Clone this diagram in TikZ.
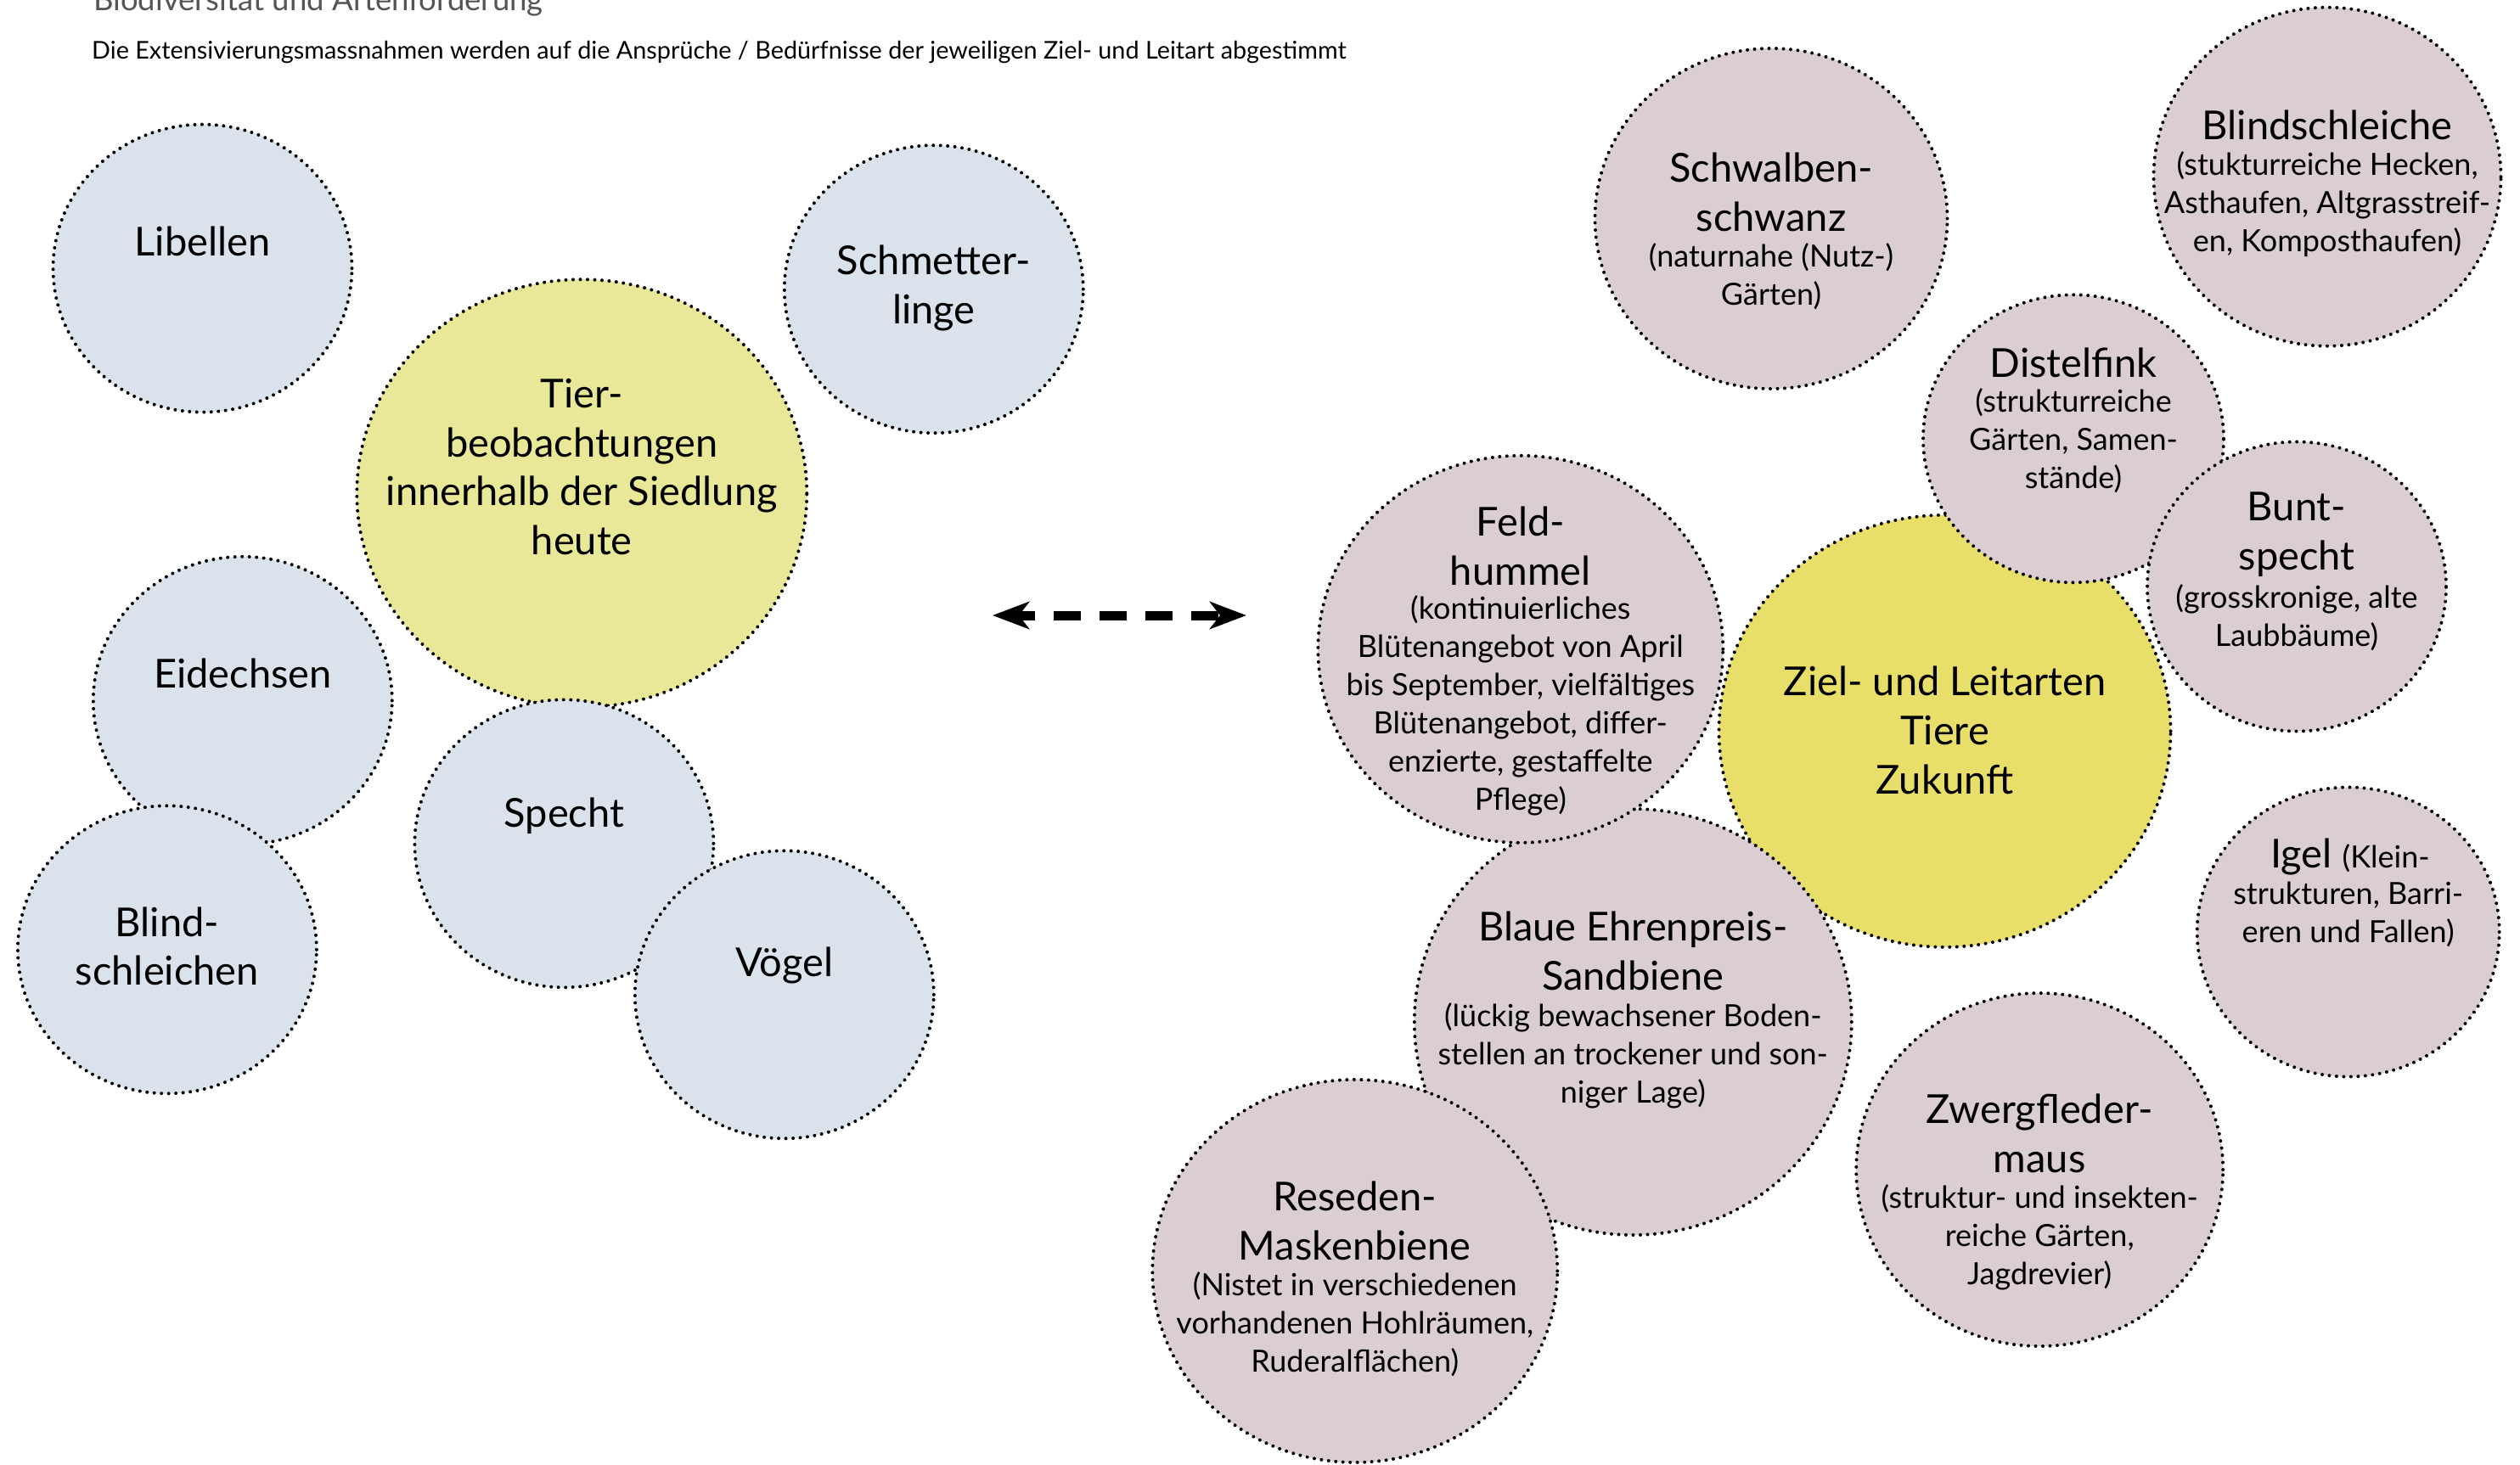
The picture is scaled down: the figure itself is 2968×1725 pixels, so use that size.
\documentclass[tikz,border=0pt]{standalone}
\usepackage{fontspec}
\setmainfont{Lato}
\usetikzlibrary{shapes.geometric,arrows.meta}
\definecolor{bluefill}{HTML}{DAE2EB}
\definecolor{paleyellow}{HTML}{E8E898}
\definecolor{goldyellow}{HTML}{E8DE6A}
\definecolor{mauvefill}{HTML}{DACED3}
\definecolor{titlegray}{HTML}{555555}
\newcommand{\BigTxt}{\fontsize{47}{57.7}\selectfont}
\newcommand{\SmallTxt}{\fontsize{36}{45}\selectfont}
\begin{document}
\begin{tikzpicture}[x=1pt,y=-1pt,
  bubble/.style={ellipse, draw=black, line width=4pt, dash pattern=on 0pt off 8.5pt, line cap=round, inner sep=0pt},
  bluebub/.style={bubble, fill=bluefill, minimum width=352pt, minimum height=339pt},
  mauvebub/.style={bubble, fill=mauvefill},
  bigtxt/.style={align=center, font=\BigTxt, inner sep=0pt},
  smalltxt/.style={align=center, font=\SmallTxt, inner sep=0pt},
  dblarrow/.style={line width=11pt, dash pattern=on 32pt off 22pt, dash phase=10pt,
    {Stealth[length=43pt,width=32pt,inset=12pt]}-{Stealth[length=43pt,width=32pt,inset=12pt]}}]
\useasboundingbox (0,0) rectangle (2968,1725);

% header
\node[anchor=base west, inner sep=0pt, text=titlegray, font=\fontsize{36.5}{40}\selectfont] (title) at (110,12) {Biodiversität und Artenförderung};
\node[anchor=base west, inner sep=0pt, font=\fontsize{28.8}{32}\selectfont] (subtitle) at (108,69) {Die Extensivierungsmassnahmen werden auf die Ansprüche / Bedürfnisse der jeweiligen Ziel- und Leitart abgestimmt};

% left group
\node[bubble, fill=paleyellow, minimum width=530pt, minimum height=504pt] (heute) at (685.3,581.2) {};
\node[bluebub] (specht) at (664.4,993.8) {};
\node[bluebub] (voegel) at (923.8,1171.8) {};
\node[bluebub] (eidechsen) at (285.8,825.3) {};
\node[bluebub] (blindschleichen) at (196.9,1118.8) {};
\node[bluebub] (libellen) at (238.5,316.1) {};
\node[bluebub] (schmetterlinge) at (1099.8,340.7) {};

\node[bigtxt] (tHeute) at (685.3,549.9) {Tier-\\beobachtungen\\innerhalb der Siedlung\\heute};
\node[bigtxt] (tSpecht) at (664.4,961.6) {Specht};
\node[bigtxt] (tVoegel) at (923.8,1137.7) {Vögel};
\node[bigtxt] (tEidechsen) at (285.8,793.2) {Eidechsen};
\node[bigtxt] (tBlindschleichen) at (196.9,1115) {Blind-\\schleichen};
\node[bigtxt] (tLibellen) at (238.5,284) {Libellen};
\node[bigtxt] (tSchmetterlinge) at (1099.8,339.8) {Schmetter-\\linge};

% arrow
\coordinate (arrL) at (1169,725);
\coordinate (arrR) at (1468,725);
\draw[dblarrow] (arrL) -- (arrR);

% right group
\node[bubble, fill=goldyellow, minimum width=532pt, minimum height=509pt] (zukunft) at (2290.5,861.3) {};
\node[mauvebub, minimum width=515pt, minimum height=502pt] (sandbiene) at (1923.3,1204) {};
\node[mauvebub, minimum width=477pt, minimum height=456pt] (feldhummel) at (1790.8,764.8) {};
\node[mauvebub, minimum width=477pt, minimum height=451pt] (maskenbiene) at (1595.8,1497.4) {};
\node[mauvebub, minimum width=354pt, minimum height=339pt] (distelfink) at (2442,516.8) {};
\node[mauvebub, minimum width=352pt, minimum height=341pt] (buntspecht) at (2705,691) {};
\node[mauvebub, minimum width=415pt, minimum height=401pt] (schwalbenschwanz) at (2086,257.5) {};
\node[mauvebub, minimum width=409pt, minimum height=399pt] (blindschleiche) at (2741,208.2) {};
\node[mauvebub, minimum width=356pt, minimum height=341pt] (igel) at (2765.7,1098) {};
\node[mauvebub, minimum width=432pt, minimum height=416pt] (zwergfledermaus) at (2402.2,1378) {};

\node[bigtxt] (tZukunft) at (2290.5,860.4) {Ziel- und Leitarten\\Tiere\\Zukunft};

\node[bigtxt] (tSchwalbenA) at (2086,226.2) {Schwalben-\\schwanz};
\node[smalltxt] (tSchwalbenB) at (2086,325.6) {(naturnahe (Nutz-)\\Gärten)};

\node[bigtxt] (tBlindA) at (2741,147.7) {Blindschleiche};
\node[smalltxt] (tBlindB) at (2741,240.4) {(stukturreiche Hecken,\\Asthaufen, Altgrasstreif-\\en, Komposthaufen)};

\node[bigtxt] (tDistelA) at (2442,427.8) {Distelfink};
\node[smalltxt] (tDistelB) at (2442,519.6) {(strukturreiche\\Gärten, Samen-\\stände)};

\node[bigtxt] (tBuntA) at (2705,629.4) {Bunt-\\specht};
\node[smalltxt] (tBuntB) at (2705,727.9) {(grosskronige, alte\\Laubbäume)};

\node[bigtxt] (tFeldA) at (1790.8,643.6) {Feld-\\hummel};
\node[smalltxt] (tFeldB) at (1790.8,831) {(kontinuierliches\\Blütenangebot von April\\bis September, vielfältiges\\Blütenangebot, differ-\\enzierte, gestaffelte\\Pflege)};

\node[inner sep=0pt] (tIgelA) at (2768,1009) {\BigTxt Igel \SmallTxt(Klein-};
\node[smalltxt] (tIgelB) at (2765.7,1077) {strukturen, Barri-\\eren und Fallen)};

\node[bigtxt] (tSandA) at (1923.3,1120.7) {Blaue Ehrenpreis-\\Sandbiene};
\node[smalltxt] (tSandB) at (1923.3,1243.7) {(lückig bewachsener Boden-\\stellen an trockener und son-\\niger Lage)};

\node[bigtxt] (tZwergA) at (2402.2,1335.5) {Zwergfleder-\\maus};
\node[smalltxt] (tZwergB) at (2402.2,1457.6) {(struktur- und insekten-\\reiche Gärten,\\Jagdrevier)};

\node[bigtxt] (tMaskeA) at (1595.8,1438.7) {Reseden-\\Maskenbiene};
\node[smalltxt] (tMaskeB) at (1595.8,1559.8) {(Nistet in verschiedenen\\vorhandenen Hohlräumen,\\Ruderalflächen)};
\end{tikzpicture}
\end{document}
